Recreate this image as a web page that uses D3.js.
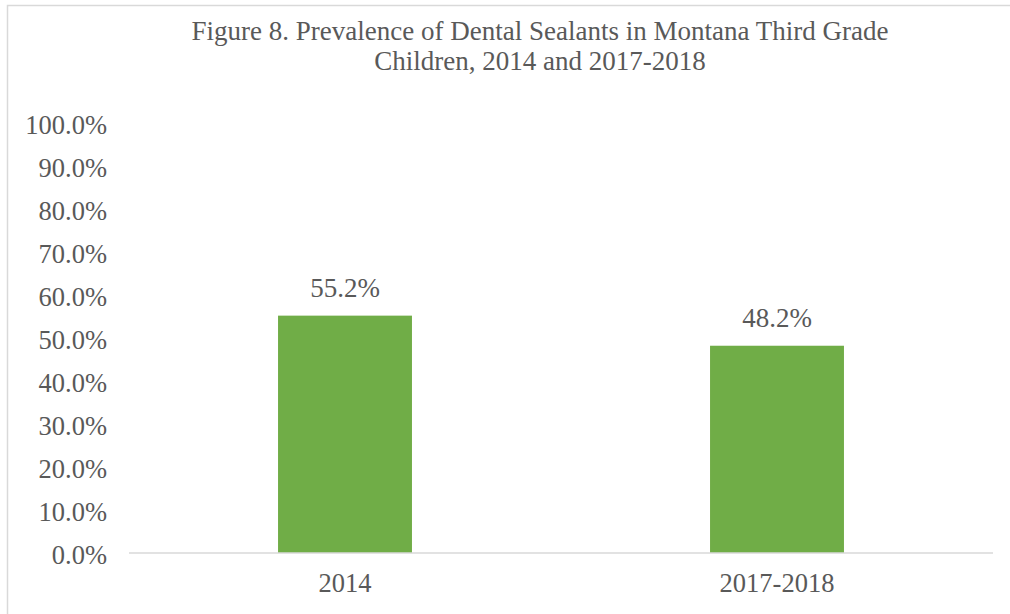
<html>
<head>
  <meta charset="UTF-8" />
  <title>Dental sealants bar chart</title>
  <script src="https://d3js.org/d3.v7.min.js"></script>
  <style>
    body { margin: 0; background: #ffffff; }
    text { font-family: "Liberation Serif", "Times New Roman", serif; fill: #595959; }
  </style>
</head>
<body>
<div id="chart"></div>
<script>
  var categories = ["2014", "2017-2018"];
  var values = [55.2, 48.2];
  var yTicks = [0, 10, 20, 30, 40, 50, 60, 70, 80, 90, 100];
  var titleLines = ["Figure 8. Prevalence of Dental Sealants in Montana Third Grade",
                    "Children, 2014 and 2017-2018"];

  var W = 1010, H = 614;
  var m = {top: 123, right: 17, bottom: 61, left: 129};
  var w = W - m.left - m.right,
      h = H - m.top - m.bottom;
  var labelSize = 26.5;

  var svg = d3.select("#chart").append("svg")
      .attr("width", W)
      .attr("height", H);

  // chart frame
  svg.append("rect")
      .attr("x", 7.5).attr("y", 5.5)
      .attr("width", W + 20).attr("height", H + 20)
      .attr("fill", "none")
      .attr("stroke", "#d9d9d9")
      .attr("stroke-width", 1.5);

  svg.selectAll(".title")
      .data(titleLines)
      .enter().append("text")
      .attr("class", "title")
      .attr("x", 540)
      .attr("y", function(d, i) { return 40 + i * 30; })
      .attr("text-anchor", "middle")
      .attr("font-size", 27)
      .text(function(d) { return d; });

  var g = svg.append("g")
      .attr("transform", "translate(" + m.left + "," + m.top + ")");

  var x = d3.scaleBand()
      .domain(categories)
      .range([0, w])
      .paddingInner(0.69)
      .paddingOuter(0.345);

  var y = d3.scaleLinear()
      .domain([0, 100])
      .range([h, 0]);

  var yAxis = d3.axisLeft(y)
      .tickValues(yTicks)
      .tickSize(0)
      .tickPadding(22)
      .tickFormat(function(d) { return d.toFixed(1) + "%"; });

  var gy = g.append("g").call(yAxis);
  gy.select(".domain").remove();
  gy.selectAll("text")
      .attr("font-size", labelSize)
      .attr("dy", "0.38em")
      .attr("font-family", "Liberation Serif, serif")
      .attr("fill", "#595959");

  g.selectAll(".bar")
      .data(values)
      .enter().append("rect")
      .attr("class", "bar")
      .attr("x", function(d, i) { return x(categories[i]); })
      .attr("y", function(d) { return y(d); })
      .attr("width", x.bandwidth())
      .attr("height", function(d) { return h - y(d); })
      .attr("fill", "#70ad47");

  g.append("line")
      .attr("x1", 0).attr("x2", w)
      .attr("y1", h).attr("y2", h)
      .attr("stroke", "#d9d9d9")
      .attr("stroke-width", 1.5);

  var xAxis = d3.axisBottom(x).tickSize(0).tickPadding(20);
  var gx = g.append("g")
      .attr("transform", "translate(0," + h + ")")
      .call(xAxis);
  gx.select(".domain").remove();
  gx.selectAll("text")
      .attr("font-size", labelSize)
      .attr("font-family", "Liberation Serif, serif")
      .attr("fill", "#595959");

  g.selectAll(".val")
      .data(values)
      .enter().append("text")
      .attr("class", "val")
      .attr("x", function(d, i) { return x(categories[i]) + x.bandwidth() / 2; })
      .attr("y", function(d) { return y(d) - 19; })
      .attr("text-anchor", "middle")
      .attr("font-size", 27)
      .text(function(d) { return d.toFixed(1) + "%"; });
</script>
</body>
</html>
